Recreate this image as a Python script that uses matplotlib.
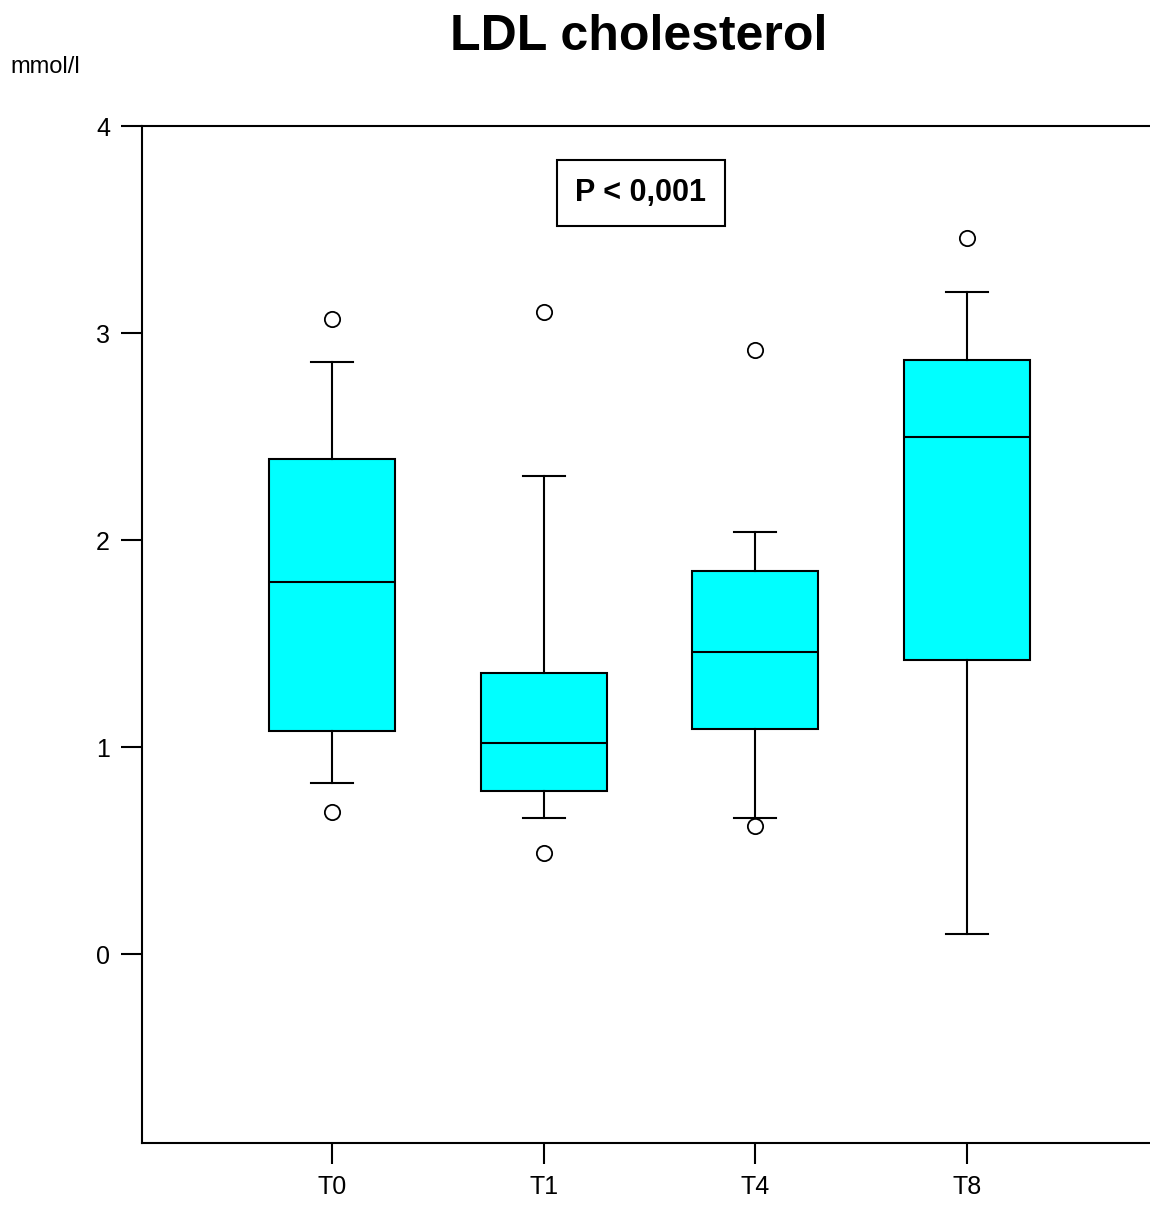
import matplotlib
matplotlib.use("Agg")
import matplotlib.pyplot as plt

plt.rcParams['font.family'] = ['Liberation Sans', 'DejaVu Sans']

# LDL cholesterol (mmol/l) at each time point
groups = ['T0', 'T1', 'T4', 'T8']
whislo = [0.83, 0.66, 0.66, 0.10]
q1 = [1.08, 0.79, 1.09, 1.42]
med = [1.80, 1.02, 1.46, 2.50]
q3 = [2.39, 1.36, 1.85, 2.87]
whishi = [2.86, 2.31, 2.04, 3.20]
fliers = [[3.07, 0.69], [3.10, 0.49], [2.92, 0.62], [3.46]]

stats = []
for i, g in enumerate(groups):
    stats.append(dict(label=g, whislo=whislo[i], q1=q1[i], med=med[i],
                      q3=q3[i], whishi=whishi[i], fliers=fliers[i]))

fig = plt.figure(figsize=(11.5, 12.05), dpi=100)
ax = fig.add_axes([0.1235, 0.0515, 0.8765, 0.8439])

lw = 1.5
ax.bxp(stats, positions=[1, 2, 3, 4], widths=0.595, patch_artist=True,
       boxprops=dict(facecolor='#00ffff', edgecolor='black', linewidth=lw),
       medianprops=dict(color='black', linewidth=lw),
       whiskerprops=dict(color='black', linewidth=lw),
       capprops=dict(color='black', linewidth=lw),
       capwidths=0.2,
       flierprops=dict(marker='o', markersize=11, markerfacecolor='none',
                       markeredgecolor='black', markeredgewidth=1.3))

ax.set_xlim(0.102, 4.865)
ax.set_ylim(-0.91, 4)
ax.set_yticks([0, 1, 2, 3, 4])
ax.spines['right'].set_visible(False)
for s in ['left', 'top', 'bottom']:
    ax.spines[s].set_linewidth(lw)
ax.tick_params(axis='both', direction='out', length=15, width=lw,
               labelsize=18, pad=8)

ax.text(0.495, 0.934, 'P < 0,001', transform=ax.transAxes, ha='center',
        va='center', fontsize=22, fontweight='bold',
        bbox=dict(boxstyle='square,pad=0.6', fc='white', ec='black', lw=lw))

fig.text(0.555, 0.969, 'LDL cholesterol', ha='center', va='center',
         fontsize=36, fontweight='bold')
fig.text(0.009, 0.944, 'mmol/l', ha='left', va='center', fontsize=17)

fig.savefig('out.png', dpi=100)
